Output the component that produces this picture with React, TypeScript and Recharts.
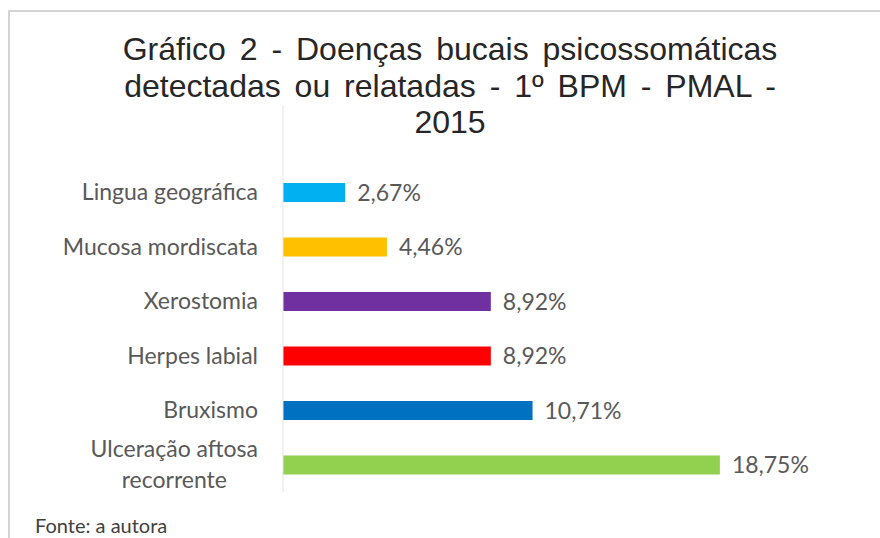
import React from 'react';
import { BarChart, Bar, XAxis, YAxis, Cell, LabelList } from 'recharts';

const categories = [
  'Lingua geográfica',
  'Mucosa mordiscata',
  'Xerostomia',
  'Herpes labial',
  'Bruxismo',
  'Ulceração aftosa recorrente',
];
const values = [2.67, 4.46, 8.92, 8.92, 10.71, 18.75];
const colors = ['#00B0F0', '#FFC000', '#7030A0', '#FF0000', '#0070C0', '#92D050'];
const titleLines = [
  'Gráfico 2 - Doenças bucais psicossomáticas',
  'detectadas ou relatadas - 1º BPM - PMAL -',
  '2015',
];
const footer = 'Fonte: a autora';

const data = categories.map((name, i) => ({ name, value: values[i], color: colors[i] }));

const LABEL_FONT = 'Lato, "Open Sans", sans-serif';
const LABEL_SIZE = 23;

function measure(text: string, font: string): number {
  if (typeof document === 'undefined') return text.length * 10;
  const c = document.createElement('canvas');
  const ctx = c.getContext('2d');
  if (!ctx) return text.length * 10;
  ctx.font = font;
  return ctx.measureText(text).width;
}

function wrapLabel(s: string): string[] {
  if (s === 'Ulceração aftosa recorrente') return ['Ulceração aftosa', 'recorrente'];
  return [s];
}

const CategoryTick = (props: any) => {
  const { x, y, payload } = props;
  const lines = wrapLabel(String(payload.value));
  if (lines.length === 1) {
    return (
      <text x={x} y={y} dy="0.35em" textAnchor="end" fill="#595959"
        fontFamily={LABEL_FONT} fontSize={LABEL_SIZE}>
        {lines[0]}
      </text>
    );
  }
  const font = `${LABEL_SIZE}px Lato`;
  const w = Math.max(...lines.map((l) => measure(l, font)));
  const cx = x - w / 2;
  const lh = 31;
  const startY = y - ((lines.length - 1) * lh) / 2;
  return (
    <text textAnchor="middle" fill="#595959" fontFamily={LABEL_FONT} fontSize={LABEL_SIZE}>
      {lines.map((l, i) => (
        <tspan key={i} x={cx} y={startY + i * lh} dy="0.35em">{l}</tspan>
      ))}
    </text>
  );
};

const fmt = (v: any) => Number(v).toFixed(2).replace('.', ',') + '%';

export default function App() {
  return (
    <div style={{ position: 'absolute', left: 0, top: 0, width: 880, height: 538, background: '#fff', overflow: 'hidden' }}>
      <div style={{ position: 'absolute', left: 8, top: 10, width: 900, height: 600, borderLeft: '2px solid #d4d4d4', borderTop: '2px solid #d4d4d4' }} />
      <div style={{ position: 'absolute', left: 0, top: 0 }}>
        <BarChart
          width={880}
          height={538}
          data={data}
          layout="vertical"
          margin={{ top: 105, right: 131, bottom: 46, left: 0 }}
          barSize={19}
        >
          <XAxis type="number" domain={[0, 20]} hide />
          <YAxis
            type="category"
            dataKey="name"
            width={283}
            axisLine={{ stroke: '#e4e4e4' }}
            tickLine={false}
            tickSize={0}
            tickMargin={25}
            padding={{ top: 60, bottom: 0 }}
            tick={<CategoryTick />}
            interval={0}
          />
          <Bar dataKey="value" isAnimationActive={false}>
            {data.map((d, i) => (
              <Cell key={i} fill={d.color} />
            ))}
            <LabelList dataKey="value" position="right" offset={12} formatter={fmt}
              fill="#595959" fontFamily={LABEL_FONT} fontSize={LABEL_SIZE} />
          </Bar>
        </BarChart>
      </div>
      <svg width={880} height={538} style={{ position: 'absolute', left: 0, top: 0, pointerEvents: 'none' }}>
        {titleLines.map((t, i) => (
          <text key={i} x={450} y={60 + i * 36.5} textAnchor="middle" fill="#262626"
            fontFamily='"Liberation Sans", Arial, sans-serif' fontSize={32} wordSpacing={5}>
            {t}
          </text>
        ))}
        <text x={35} y={533} fill="#404040" fontFamily={LABEL_FONT} fontSize={20}>{footer}</text>
      </svg>
    </div>
  );
}
